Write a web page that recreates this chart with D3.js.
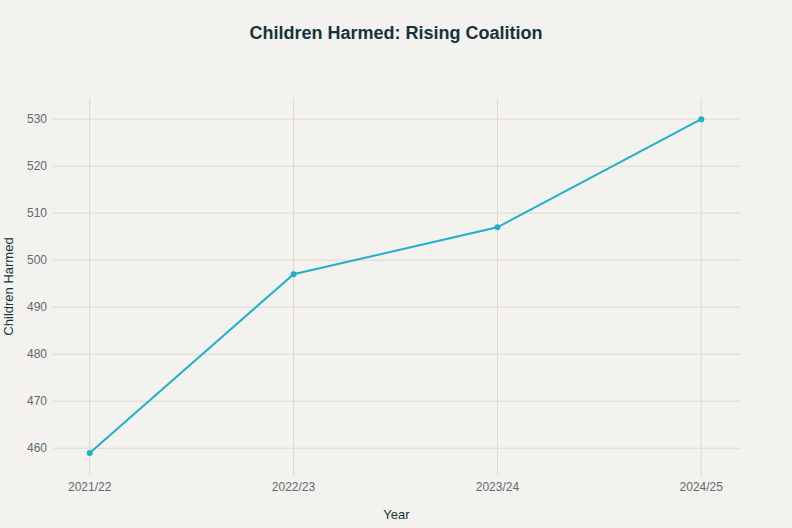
<!DOCTYPE html>
<html>
<head>
<meta charset="utf-8">
<script src="https://cdn.jsdelivr.net/npm/d3@7"></script>
<style>
  body { margin: 0; background: #f3f2ee; }
  svg { display: block; font-family: "Liberation Sans", Arial, sans-serif; }
</style>
</head>
<body>
<div id="chart"></div>
<script>
// chart data
const years = ["2021/22", "2022/23", "2023/24", "2024/25"];
const harmed = [459, 497, 507, 530];
const yTicks = [460, 470, 480, 490, 500, 510, 520, 530];

const WIDTH = 792;
const HEIGHT = 528;
const PLOT = {left: 53, right: 740, top: 98, bottom: 475};

const svg = d3.select("#chart")
  .append("svg")
    .attr("width", WIDTH)
    .attr("height", HEIGHT);

svg.append("rect")
  .attr("width", WIDTH)
  .attr("height", HEIGHT)
  .attr("fill", "#f3f2ee");

// x on index so the points sit inside the plot with some padding
const x = d3.scaleLinear()
  .domain([-0.18, years.length - 1 + 0.19])
  .range([PLOT.left, PLOT.right]);

const y = d3.scaleLinear()
  .domain([454.3, 534.5])
  .range([PLOT.bottom, PLOT.top]);

// horizontal grid
svg.append("g")
  .selectAll("line")
  .data(yTicks)
  .join("line")
    .attr("x1", PLOT.left)
    .attr("x2", PLOT.right)
    .attr("y1", d => y(d))
    .attr("y2", d => y(d))
    .attr("stroke", "#dcd8d0")
    .attr("stroke-width", 1);

// vertical grid
svg.append("g")
  .selectAll("line")
  .data(years)
  .join("line")
    .attr("x1", (d, i) => x(i))
    .attr("x2", (d, i) => x(i))
    .attr("y1", PLOT.top)
    .attr("y2", PLOT.bottom)
    .attr("stroke", "#dcd8d0")
    .attr("stroke-width", 1);

// y tick labels
svg.append("g")
  .selectAll("text")
  .data(yTicks)
  .join("text")
    .attr("x", PLOT.left - 6)
    .attr("y", d => y(d))
    .attr("dy", "0.35em")
    .attr("text-anchor", "end")
    .attr("font-size", 12)
    .attr("fill", "#5f6a6d")
    .text(d => d);

// x tick labels
svg.append("g")
  .selectAll("text")
  .data(years)
  .join("text")
    .attr("x", (d, i) => x(i))
    .attr("y", 491)
    .attr("text-anchor", "middle")
    .attr("font-size", 12)
    .attr("fill", "#5f6a6d")
    .text(d => d);

// line
const line = d3.line()
  .x((d, i) => x(i))
  .y(d => y(d));

svg.append("path")
  .datum(harmed)
  .attr("d", line)
  .attr("fill", "none")
  .attr("stroke", "#1fb1c8")
  .attr("stroke-width", 2);

svg.append("g")
  .selectAll("circle")
  .data(harmed)
  .join("circle")
    .attr("cx", (d, i) => x(i))
    .attr("cy", d => y(d))
    .attr("r", 3)
    .attr("fill", "#1fb1c8");

// titles
svg.append("text")
  .attr("x", WIDTH / 2)
  .attr("y", 39)
  .attr("text-anchor", "middle")
  .attr("font-size", 18)
  .attr("font-weight", "bold")
  .attr("fill", "#13343b")
  .text("Children Harmed: Rising Coalition");

svg.append("text")
  .attr("x", (PLOT.left + PLOT.right) / 2)
  .attr("y", 519)
  .attr("text-anchor", "middle")
  .attr("font-size", 13)
  .attr("fill", "#13343b")
  .text("Year");

svg.append("text")
  .attr("transform", `translate(13, ${(PLOT.top + PLOT.bottom) / 2}) rotate(-90)`)
  .attr("text-anchor", "middle")
  .attr("font-size", 13)
  .attr("fill", "#13343b")
  .text("Children Harmed");
</script>
</body>
</html>
